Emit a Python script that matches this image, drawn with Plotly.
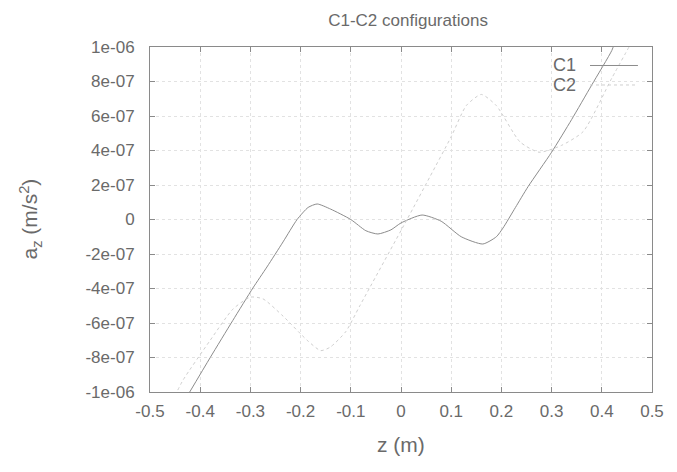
import plotly.graph_objects as go

# C1 configuration
z_c1 = [-0.425, -0.38, -0.335, -0.295, -0.267, -0.235, -0.207, -0.185, -0.167, -0.14,
        -0.10, -0.07, -0.046, -0.02, 0.0, 0.042, 0.08, 0.12, 0.163, 0.19, 0.203,
        0.228, 0.253, 0.30, 0.34, 0.38, 0.42, 0.425]
a_c1 = [-1.02e-6, -8.0e-7, -5.85e-7, -3.97e-7, -2.75e-7, -1.3e-7, 0.0, 0.7e-7, 0.9e-7, 0.6e-7,
        0.0, -0.65e-7, -0.84e-7, -0.6e-7, -0.2e-7, 0.26e-7, -0.1e-7, -1.0e-7, -1.42e-7, -1.0e-7, -0.5e-7,
        0.7e-7, 1.9e-7, 3.9e-7, 5.8e-7, 7.8e-7, 9.8e-7, 1.02e-6]

# C2 configuration
z_c2 = [-0.45, -0.434, -0.38, -0.335, -0.30, -0.275, -0.235, -0.187, -0.16, -0.141,
        -0.11, -0.082, 0.012, 0.058, 0.10, 0.13, 0.16, 0.19, 0.237, 0.275, 0.32,
        0.363, 0.42, 0.458]
a_c2 = [-1.02e-6, -9.3e-7, -7.0e-7, -5.2e-7, -4.5e-7, -4.6e-7, -5.6e-7, -7.0e-7, -7.6e-7, -7.4e-7,
        -6.5e-7, -5.0e-7, 0.0, 2.5e-7, 4.8e-7, 6.6e-7, 7.25e-7, 6.6e-7, 4.5e-7, 3.9e-7, 4.3e-7,
        5.1e-7, 8.2e-7, 1.02e-6]

x_ticks = [-0.5, -0.4, -0.3, -0.2, -0.1, 0, 0.1, 0.2, 0.3, 0.4, 0.5]
x_tick_labels = ["-0.5", "-0.4", "-0.3", "-0.2", "-0.1", "0", "0.1", "0.2", "0.3", "0.4", "0.5"]
y_ticks = [-1e-6, -8e-7, -6e-7, -4e-7, -2e-7, 0, 2e-7, 4e-7, 6e-7, 8e-7, 1e-6]
y_tick_labels = ["-1e-06", "-8e-07", "-6e-07", "-4e-07", "-2e-07", "0",
                 "2e-07", "4e-07", "6e-07", "8e-07", "1e-06"]

series_names = ["C1", "C2"]
c1_color = "#8c8c8c"
c2_color = "#cfcfcf"
text_color = "#6a6a6a"
font_family = "Liberation Sans, Arial, sans-serif"

fig = go.Figure()
fig.add_trace(go.Scatter(x=z_c1, y=a_c1, mode="lines", name=series_names[0],
                         line=dict(color=c1_color, width=1, shape="spline", smoothing=0.6),
                         showlegend=False))
fig.add_trace(go.Scatter(x=z_c2, y=a_c2, mode="lines", name=series_names[1],
                         line=dict(color=c2_color, width=1, shape="spline", smoothing=0.6, dash="dot"),
                         showlegend=False))

axis_common = dict(
    showline=True, linecolor="#8a8a8a", linewidth=1, mirror="ticks",
    ticks="inside", ticklen=5, tickcolor="#8a8a8a",
    showgrid=True, gridcolor="#e2e2e2", griddash="dot", gridwidth=1,
    zeroline=False, automargin=False,
    tickfont=dict(size=17, color=text_color, family=font_family),
)

fig.update_xaxes(range=[-0.5, 0.5], tickvals=x_ticks, ticktext=x_tick_labels,
                 ticklabelstandoff=4, **axis_common)
fig.update_yaxes(range=[-1e-6, 1e-6], tickvals=y_ticks, ticktext=y_tick_labels,
                 ticklabelstandoff=11, **axis_common)

# axis titles
fig.add_annotation(xref="paper", yref="paper", x=0.5, y=-0.1536, text="z (m)", showarrow=False,
                   xanchor="center", yanchor="middle",
                   font=dict(size=21, color=text_color, family=font_family))
fig.add_annotation(xref="paper", yref="paper", x=-0.239, y=0.5, text="a<sub>z</sub> (m/s<sup>2</sup>)",
                   showarrow=False, textangle=-90, xanchor="center", yanchor="middle",
                   font=dict(size=21, color=text_color, family=font_family))

# gnuplot-style key: label then sample line, top right inside the frame
legend_rows = [(0.9464, c1_color, "solid"), (0.8899, c2_color, "dot")]
for name, (yy, col, dash) in zip(series_names, legend_rows):
    fig.add_annotation(xref="paper", yref="paper", x=0.8526, y=yy, text=name, showarrow=False,
                       xanchor="right", yanchor="middle",
                       font=dict(size=18, color=text_color, family=font_family))
    fig.add_shape(type="line", xref="paper", yref="paper", x0=0.8765, x1=0.972, y0=yy, y1=yy,
                  line=dict(color=col, width=1, dash=dash))

# page body adds 8 px margin, so figure is 8 px smaller than the window on each axis
fig.update_layout(
    width=669, height=464,
    margin=dict(l=142, r=25, t=39, b=80, autoexpand=False),
    paper_bgcolor="white", plot_bgcolor="white",
    title=dict(text="C1-C2 configurations", x=0.598, xanchor="center", y=1 - 12 / 464,
               yanchor="middle", yref="container",
               font=dict(size=17, color=text_color, family=font_family)),
    font=dict(family=font_family, color=text_color),
)

fig.write_html("out.html")
